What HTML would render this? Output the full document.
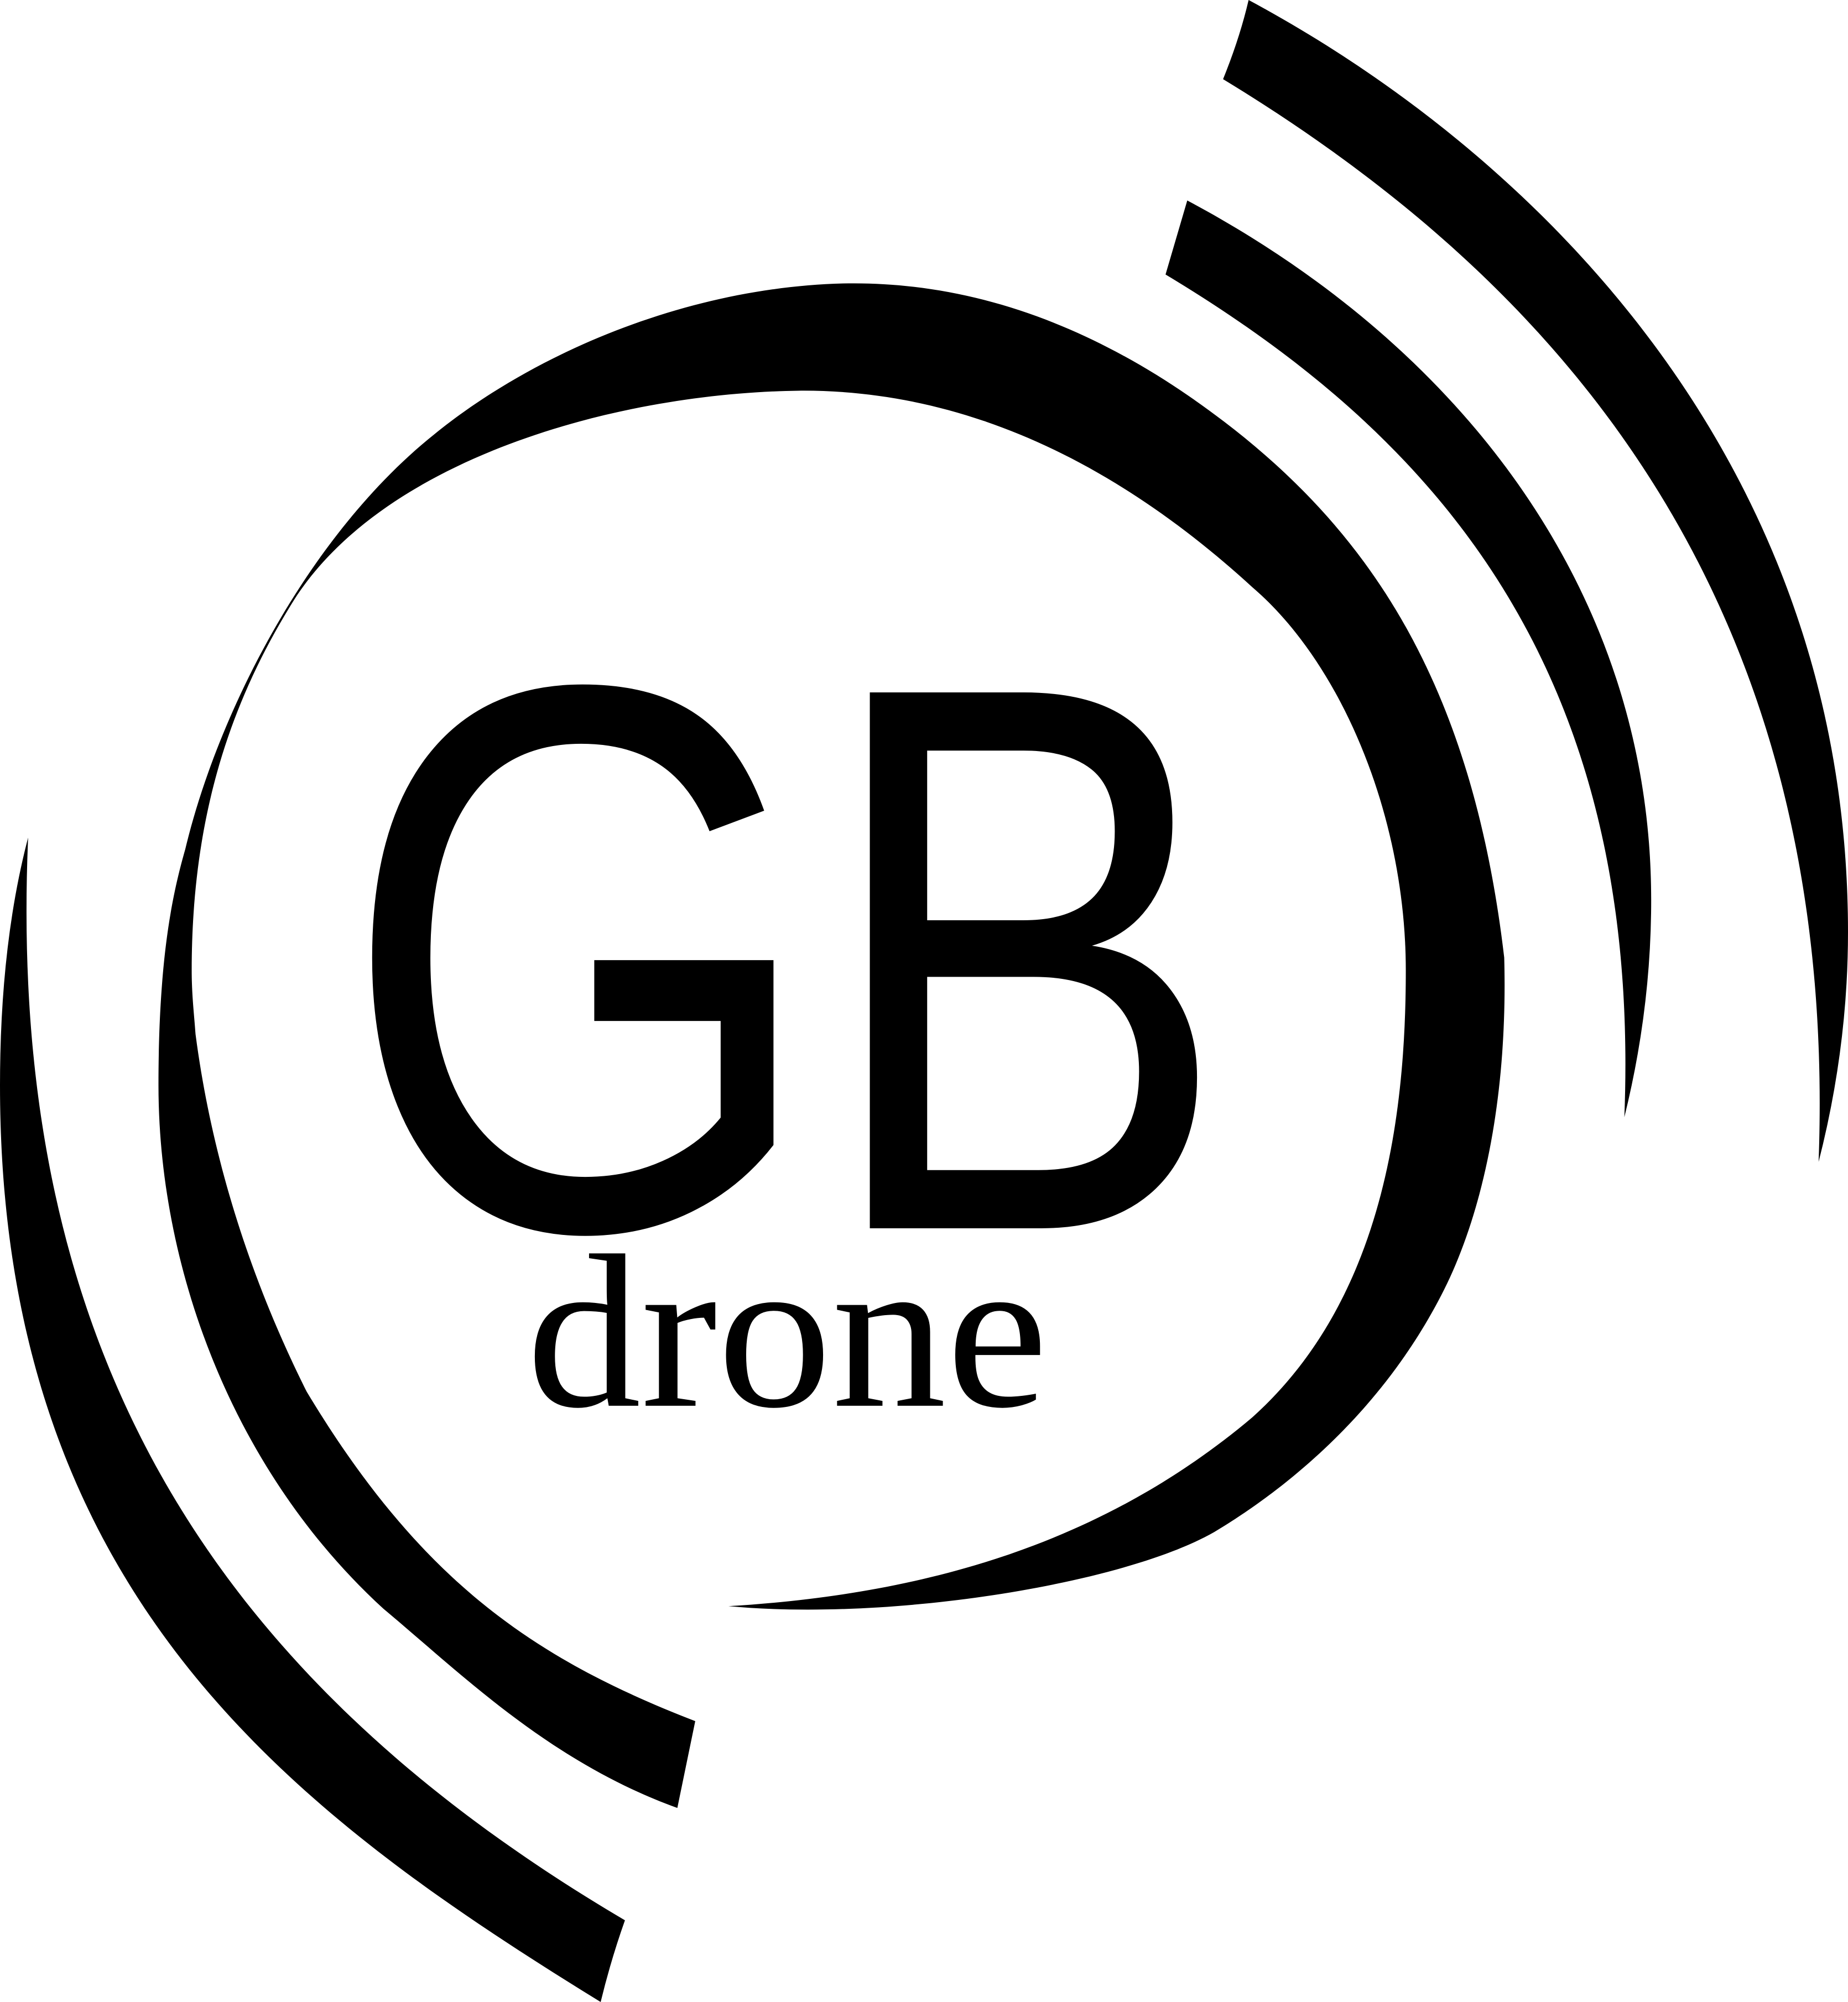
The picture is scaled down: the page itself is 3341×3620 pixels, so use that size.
<!DOCTYPE html>
<html>
<head>
<meta charset="utf-8">
<style>
html,body{margin:0;padding:0;background:#fff;}
svg{display:block;}
</style>
</head>
<body>
<svg width="3341" height="3620" viewBox="0 0 1446 1568" preserveAspectRatio="none" xmlns="http://www.w3.org/2000/svg">
  <rect width="1446" height="1568" fill="#fff"/>
  <path fill="#000"
    d="M977,0 C1200,120 1446,360 1446,730 Q1446,820 1423,910 C1440,450 1200,210 957,62 Q970,30 977,0 Z"/>
  <path fill="#000"
    d="M929,157 C1150,275 1292,470 1292,705 Q1292,790 1271,875 C1285,520 1120,340 912,215 Z"/>
  <path fill="#000"
    d="M22,656 Q0,740 0,850 C0,1250 230,1420 470,1568 Q478,1535 489,1504 C160,1310 5,1050 22,656 Z"/>
  <path fill="#000"
    d="M530,1416
       C430,1380 360,1310 300,1260
       C180,1150 124,990 124,850
       C124,750 135,700 145,665
       C170,560 240,420 340,340
       C420,275 540,225 660,222
       C760,220 850,255 930,310
       C1060,400 1150,520 1177,750
       C1180,860 1160,950 1130,1010
       C1080,1110 1000,1170 950,1200
       C880,1240 700,1270 570,1258
       C700,1250 850,1220 980,1110
       C1080,1020 1100,880 1100,760
       C1100,640 1050,520 980,460
       C860,350 740,305 625,306
       C480,308 300,360 230,470
       C180,550 150,640 150,760
       C150,780 152,795 153,810
       C170,940 215,1040 240,1090
       C330,1240 420,1300 544,1348 Z"/>
  <text x="267" y="962" font-family="'Liberation Sans', sans-serif" font-size="610" textLength="695" lengthAdjust="spacingAndGlyphs" fill="#000">GB</text>
  <text x="412" y="1101" font-family="'Liberation Serif', serif" font-size="172" textLength="408" lengthAdjust="spacingAndGlyphs" fill="#000">drone</text>
</svg>
</body>
</html>
